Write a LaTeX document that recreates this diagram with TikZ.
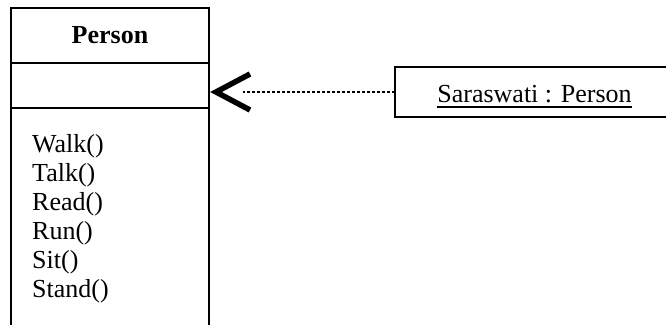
\documentclass[tikz,border=0pt]{standalone}
\usepackage{fontspec}
\setmainfont{Liberation Serif}
% underlined object name, rule placed a few points below the baseline
\newlength\ulwidth
\newcommand\objname[1]{\settowidth\ulwidth{#1}\rlap{\rule[-5pt]{\ulwidth}{1.3pt}}#1}
\begin{document}
\begin{tikzpicture}[x=1pt,y=-1pt,
  every node/.style={font=\fontsize{26}{30}\selectfont},
  compartment/.style={draw, line width=2pt, outer sep=0pt, inner sep=0pt,
    minimum width=198pt, anchor=north},
  objbox/.style={draw, line width=2pt, outer sep=0pt, inner sep=0pt,
    minimum width=279pt, minimum height=50pt, text height=21pt, text depth=0pt},
  opline/.style={anchor=base west, inner sep=0pt},
  dependency/.style={line width=1.5pt, dash pattern=on 3pt off 2pt},
  barbtip/.style={line width=5.5pt, miter limit=10}]
\clip (0,0) rectangle (666,324);
% class Person: name, attributes, operations
\node[compartment, minimum height=55pt] (title) at (110,8) {\bfseries Person};
\node[compartment, minimum height=45pt] (attrs) at (title.south) {};
\node[compartment, minimum height=240pt] (ops) at (attrs.south) {};
\foreach \op [count=\i from 0] in {Walk(),Talk(),Read(),Run(),Sit(),Stand()}
  \node[opline] (op\i) at (32,{152+29*\i}) {\op};
% object instance
\node[objbox] (sar) at (534.5,92) {\objname{Saraswati : Person}};
% instance-of dependency with open arrowhead
\coordinate (tip) at (sar.west -| attrs.east);
\draw[dependency, shorten >=34pt] (sar.west) -- (tip);
\draw[barbtip] (tip) ++(41,-18) -- ++(-34,18) -- ++(34,18);
\end{tikzpicture}
\end{document}
